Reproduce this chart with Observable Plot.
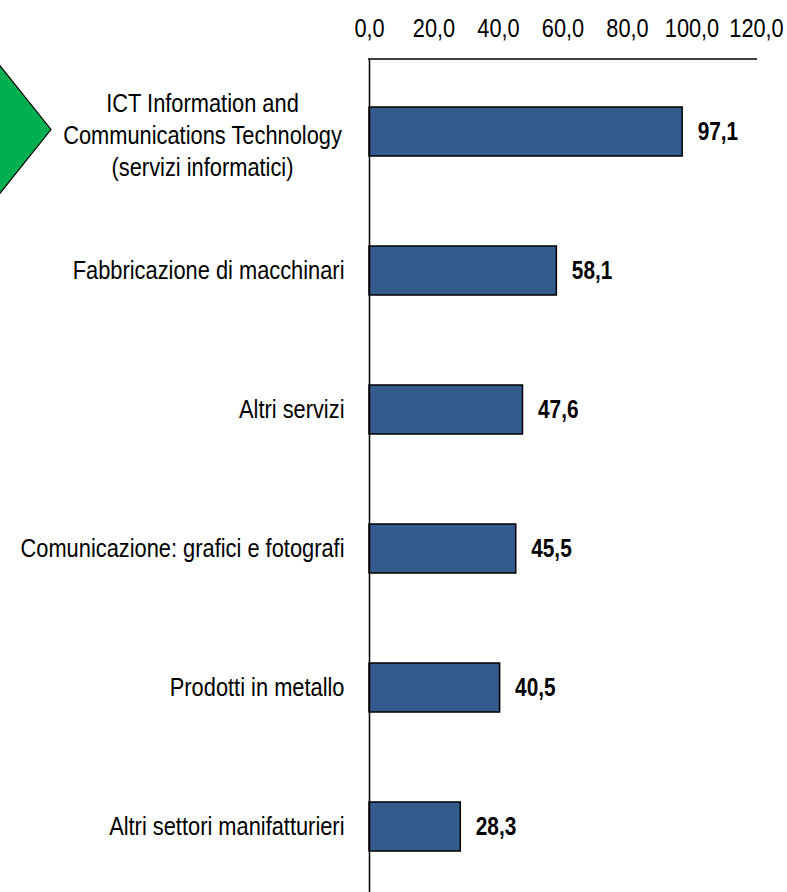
<!DOCTYPE html>
<html>
<head>
<meta charset="utf-8">
<script src="https://cdn.jsdelivr.net/npm/d3@7"></script>
<script src="https://cdn.jsdelivr.net/npm/@observablehq/plot@0.6"></script>
<style>
  html, body { margin: 0; padding: 0; background: #fff; overflow: hidden; }
  #chart { width: 787px; height: 892px; overflow: hidden; }
</style>
</head>
<body>
<div id="chart"></div>
<script>
const categories = [
  "ICT Information and\nCommunications Technology\n(servizi informatici)",
  "Fabbricazione di macchinari",
  "Altri servizi",
  "Comunicazione: grafici e fotografi",
  "Prodotti in metallo",
  "Altri settori manifatturieri"
];
const values = [97.1, 58.1, 47.6, 45.5, 40.5, 28.3];
const xTicks = [0, 20, 40, 60, 80, 100, 120];

const data = categories.map((c, i) => ({category: c, value: values[i]}));
const fmt = v => v.toFixed(1).replace(".", ",");

const family = '"Liberation Sans", Arial, sans-serif';
const fs = 26;   // category & value labels
const tfs = 25;  // tick labels
const ict = categories[0];

function topLine(index, scales) {
  const x = scales.x;
  const l = document.createElementNS("http://www.w3.org/2000/svg", "line");
  l.setAttribute("x1", x(0) - 1);
  l.setAttribute("x2", x(120) + 1);
  l.setAttribute("y1", 59);
  l.setAttribute("y2", 59);
  l.setAttribute("stroke", "#000");
  l.setAttribute("stroke-width", 1.5);
  return l;
}
function arrow(index, scales) {
  const y = scales.y;
  const cy = y(ict) + y.bandwidth() / 2 - 2;
  const tipX = 51, s = 1.25, left = -6;
  const h = (tipX - left) * s;
  const p = document.createElementNS("http://www.w3.org/2000/svg", "polygon");
  p.setAttribute("points", `${left},${cy - h} ${tipX},${cy} ${left},${cy + h}`);
  p.setAttribute("fill", "#00B050");
  p.setAttribute("stroke", "#000");
  p.setAttribute("stroke-width", 1.2);
  return p;
}

const plot = Plot.plot({
  width: 787,
  height: 898,
  marginTop: 59,
  marginBottom: 0,
  marginLeft: 369,
  marginRight: 31,
  style: {fontFamily: family, fontSize: fs + "px", color: "#000", background: "#fff"},
  x: {domain: [0, 120], axis: null},
  y: {domain: categories, paddingInner: 0.65, paddingOuter: 0.325, axis: null},
  marks: [
    Plot.axisX({anchor: "top", ticks: xTicks, tickFormat: fmt, tickSize: 0, tickPadding: 23, fontSize: tfs, label: null}),
    Plot.barX(data, {x: "value", y: "category", fill: "#345B8D", stroke: "#000", strokeWidth: 1.5}),
    Plot.ruleX([0], {stroke: "#000", strokeWidth: 1.5}),
    topLine,
    Plot.text(data.filter(d => d.category !== ict), {x: 0, y: "category", text: "category", textAnchor: "end", dx: -25, fontSize: fs, fill: "#000"}),
    Plot.text(data.filter(d => d.category === ict), {x: 0, y: "category", text: "category", textAnchor: "middle", dx: -167, dy: 1.5, lineHeight: 1.24, fontSize: fs, fill: "#000"}),
    Plot.text(data, {x: "value", y: "category", text: d => fmt(d.value), textAnchor: "start", dx: 15, fontWeight: "bold", fontSize: fs, fill: "#000"}),
    arrow
  ]
});

// Condense glyphs horizontally (the original uses a narrow typeface)
plot.querySelectorAll("text").forEach(t => {
  const g = t.closest("g");
  const bold = g && g.getAttribute("font-weight") === "bold";
  const size = g ? g.getAttribute("font-size") : null;
  const s = bold ? 0.8 : (size == String(tfs) ? 0.87 : 0.84);
  const tr = t.getAttribute("transform");
  if (tr) {
    t.setAttribute("transform", tr + ` scale(${s},1)`);
  } else {
    const x = +(t.getAttribute("x") || 0), y = +(t.getAttribute("y") || 0);
    t.setAttribute("transform", `translate(${x},${y}) scale(${s},1) translate(${-x},${-y})`);
  }
});

document.getElementById("chart").appendChild(plot);
</script>
</body>
</html>
